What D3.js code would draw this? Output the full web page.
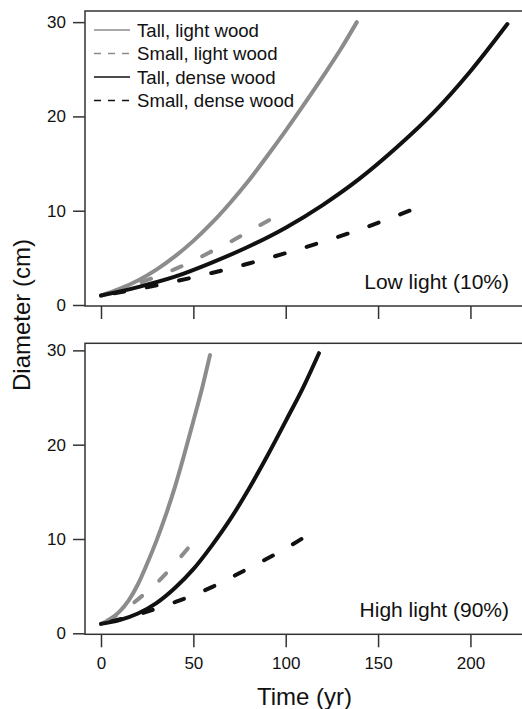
<!DOCTYPE html>
<html>
<head>
<meta charset="utf-8">
<script src="https://cdn.jsdelivr.net/npm/d3@7"></script>
<style>
  body { margin: 0; background: #fff; }
  svg { display: block; font-family: "Liberation Sans", Arial, Helvetica, sans-serif; }
</style>
</head>
<body>
<div id="chart"></div>
<script>
// series values: [time (yr), diameter (cm)]
var lowTallLight = [[0,1],[10,1.7],[20,2.6],[30,3.75],[40,5.15],[50,6.8],[60,8.7],[70,10.85],[80,13.2],[90,15.8],[100,18.5],[110,21.3],[120,24.2],[130,27.2],[138.5,30]];
var lowSmallLight = [[0,1],[10,1.6],[20,2.3],[30,3.0],[40,3.8],[50,4.7],[60,5.7],[70,6.7],[80,7.8],[91,9]];
var lowTallDense = [[0,1],[20,1.9],[40,3.0],[60,4.5],[80,6.2],[100,8.2],[120,10.6],[140,13.4],[160,16.7],[180,20.4],[200,24.8],[220,29.8]];
var lowSmallDense = [[0,1],[20,1.7],[40,2.5],[60,3.4],[80,4.4],[100,5.5],[120,6.7],[140,8.0],[167,10]];

var highTallLight = [[0,1],[5,1.5],[10,2.3],[15,3.5],[20,5.2],[25,7.4],[30,9.8],[35,12.5],[40,15.5],[45,18.9],[50,22.5],[55,26.2],[59,29.5]];
var highSmallLight = [[0,1],[10,2.1],[20,3.6],[30,5.3],[40,7.4],[47,9]];
var highTallDense = [[0,1],[10,1.4],[20,2.1],[30,3.2],[40,4.8],[50,6.8],[60,9.3],[70,12.1],[80,15.3],[90,18.8],[100,22.5],[110,26.3],[118,29.7]];
var highSmallDense = [[0,1],[20,2.0],[40,3.3],[60,4.9],[80,6.9],[100,9.0],[108.5,10]];

var seriesNames = ["Tall, light wood", "Small, light wood", "Tall, dense wood", "Small, dense wood"];
var seriesColors = ["#8c8c8c", "#8c8c8c", "#111111", "#111111"];
var seriesDashed = [false, true, false, true];
var panelLabels = ["Low light (10%)", "High light (90%)"];
var xTicks = [0, 50, 100, 150, 200];
var yTicks = [0, 10, 20, 30];

var panels = [
  {series: [lowTallLight, lowSmallLight, lowTallDense, lowSmallDense], top: 11, bottom: 306, yMax: 31.18, label: panelLabels[0], labelY: 289, tickLabels: false, legend: true},
  {series: [highTallLight, highSmallLight, highTallDense, highSmallDense], top: 343.3, bottom: 634.3, yMax: 30.75, label: panelLabels[1], labelY: 617, tickLabels: true, legend: false}
];

var W = 522, H = 709;
var left = 85, right = 524;
var dashOn = 10, dashOff = 23;

var svg = d3.select("#chart").append("svg")
  .attr("width", W)
  .attr("height", H);

var x = d3.scaleLinear().domain([-8.66, 229.0]).range([left, right]);

panels.forEach(function(p) {
  var y = d3.scaleLinear().domain([-0.106, p.yMax]).range([p.bottom, p.top]);
  var g = svg.append("g");

  // frame
  g.append("rect")
    .attr("x", left).attr("y", p.top)
    .attr("width", right - left).attr("height", p.bottom - p.top)
    .attr("fill", "none").attr("stroke", "#333").attr("stroke-width", 1.5);

  // y axis
  var ya = g.append("g")
    .attr("transform", "translate(" + left + ",0)")
    .call(d3.axisLeft(y).tickValues(yTicks).tickSize(12).tickPadding(7));
  ya.select(".domain").remove();
  ya.selectAll("line").attr("stroke", "#333").attr("stroke-width", 1.5);
  ya.selectAll("text").attr("font-size", 17).attr("fill", "#111").attr("font-family", null);

  // x axis ticks under each panel
  var xa = g.append("g")
    .attr("transform", "translate(0," + p.bottom + ")")
    .call(d3.axisBottom(x).tickValues(xTicks).tickSize(13).tickPadding(10));
  xa.select(".domain").remove();
  xa.selectAll("line").attr("stroke", "#333").attr("stroke-width", 1.5);
  xa.selectAll("text").attr("font-size", 17).attr("fill", "#111").attr("font-family", null);
  if (!p.tickLabels) xa.selectAll("text").remove();

  // curves
  var line = d3.line()
    .x(function(d) { return x(d[0]); })
    .y(function(d) { return y(d[1]); })
    .curve(d3.curveMonotoneX);

  p.series.forEach(function(s, i) {
    var path = g.append("path")
      .datum(s)
      .attr("d", line)
      .attr("fill", "none")
      .attr("stroke", seriesColors[i])
      .attr("stroke-width", 4)
      .attr("stroke-linecap", "round");
    if (seriesDashed[i]) {
      // shift the pattern so the line ends on a dash
      var len = path.node().getTotalLength();
      var period = dashOn + dashOff;
      path.attr("stroke-dasharray", dashOn + "," + dashOff)
        .attr("stroke-dashoffset", dashOn - (len % period));
    }
  });

  // panel label
  g.append("text")
    .attr("x", 509).attr("y", p.labelY)
    .attr("text-anchor", "end")
    .attr("font-size", 21)
    .attr("fill", "#111")
    .text(p.label);

  // legend
  if (p.legend) {
    var lg = g.selectAll(".leg")
      .data(seriesNames)
      .enter().append("g")
      .attr("class", "leg")
      .attr("transform", function(d, i) { return "translate(0," + (30 + i * 23.5) + ")"; });
    lg.append("line")
      .attr("x1", 94).attr("x2", 130)
      .attr("stroke", function(d, i) { return seriesColors[i]; })
      .attr("stroke-width", 1.6)
      .attr("stroke-dasharray", function(d, i) { return seriesDashed[i] ? "7,7" : null; });
    lg.append("text")
      .attr("x", 137).attr("dy", "0.35em")
      .attr("font-size", 18.6)
      .attr("fill", "#111")
      .text(function(d) { return d; });
  }
});

// axis titles
svg.append("text")
  .attr("x", (left + right) / 2).attr("y", 705)
  .attr("text-anchor", "middle")
  .attr("font-size", 24)
  .attr("fill", "#111")
  .text("Time (yr)");

svg.append("text")
  .attr("transform", "translate(30,315) rotate(-90)")
  .attr("text-anchor", "middle")
  .attr("font-size", 24)
  .attr("fill", "#111")
  .text("Diameter (cm)");
</script>
</body>
</html>
